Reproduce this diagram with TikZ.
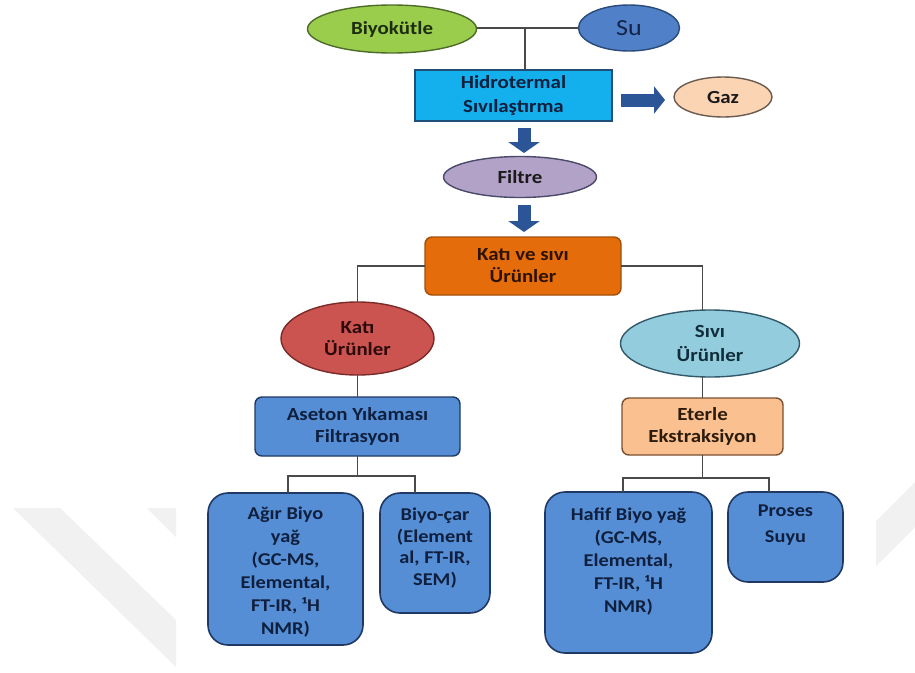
\documentclass[tikz,border=0pt]{standalone}
\usepackage{fontspec}
\setmainfont{Carlito}[FakeStretch=1.13]
\usetikzlibrary{shapes.geometric,arrows.meta,calc}
\definecolor{wm}{HTML}{F1F1F1}
\definecolor{lin}{HTML}{4A4A4A}
\definecolor{arrblue}{HTML}{2C5597}
\definecolor{biofill}{HTML}{9ACD4C}
\definecolor{biodraw}{HTML}{4E6B2A}
\definecolor{sufill}{HTML}{5080C8}
\definecolor{sudraw}{HTML}{2A4A7A}
\definecolor{hidfill}{HTML}{14B0EE}
\definecolor{hiddraw}{HTML}{1F4E79}
\definecolor{gazfill}{HTML}{FBD4B4}
\definecolor{gazdraw}{HTML}{6B5A4E}
\definecolor{filfill}{HTML}{B3A2C7}
\definecolor{fildraw}{HTML}{4A4A6A}
\definecolor{kvsfill}{HTML}{E46C0A}
\definecolor{kvsdraw}{HTML}{A34F0A}
\definecolor{katifill}{HTML}{CC5450}
\definecolor{katidraw}{HTML}{7A2A28}
\definecolor{bluefill}{HTML}{558ED5}
\definecolor{bluedraw}{HTML}{1F3864}
\definecolor{sivifill}{HTML}{93CDDD}
\definecolor{sividraw}{HTML}{31596A}
\definecolor{etfill}{HTML}{FAC090}
\definecolor{etdraw}{HTML}{7A5030}
\definecolor{darktxt}{HTML}{1A1A1A}
\definecolor{navytxt}{HTML}{0F1F3D}
\begin{document}
\begin{tikzpicture}[x=1pt,y=-1pt,
  every node/.style={inner sep=0pt, outer sep=0pt},
  txt/.style={font=\fontsize{18.5}{22}\selectfont\bfseries, align=center},
  btxt/.style={font=\fontsize{18}{23}\selectfont\bfseries, align=center, text=navytxt},
  ell/.style={ellipse, draw, line width=1.4pt, txt},
  sqbox/.style={rectangle, draw, line width=1.4pt, txt},
  rbox/.style={rectangle, rounded corners=7pt, draw, line width=1.4pt, txt},
  bbox/.style={rectangle, rounded corners=20pt, draw=bluedraw, fill=bluefill, line width=1.6pt},
  conn/.style={draw=lin, line width=1.3pt},
  blockarrow/.style={draw=arrblue, line width=13pt, -{Triangle[length=11pt,width=31pt]}},
  sidearrow/.style={draw=arrblue, line width=13pt, -{Triangle[length=11pt,width=27pt]}}
]
\fill[white] (0,0) rectangle (915,672);
\useasboundingbox (0,0) rectangle (915,672);
% faint watermark
\fill[wm] (13,508) -- (60,508) -- (176,620) -- (176,667) -- cycle;
\fill[wm] (147,508) -- (176,508) -- (176,537) -- cycle;
\fill[wm] (876,521) -- (915,482) -- (915,527) -- (876,566) -- cycle;

% nodes
\node[ell, fill=biofill, draw=biodraw, minimum width=169, minimum height=48, text={rgb,255:red,30;green,45;blue,15}] (bio) at (392,29) {Biyokütle};
\node[ell, fill=sufill, draw=sudraw, minimum width=101, minimum height=46, font=\fontsize{23}{26}\selectfont, text={rgb,255:red,20;green,35;blue,70}] (su) at (629,28) {Su};
\node[sqbox, fill=hidfill, draw=hiddraw, minimum width=197, minimum height=51, text=navytxt, font=\fontsize{18.5}{24}\selectfont\bfseries] (hid) at (513.5,95.5) {Hidrotermal\\Sıvılaştırma};
\node[ell, fill=gazfill, draw=gazdraw, minimum width=98, minimum height=40, text=darktxt] (gaz) at (723,97) {Gaz};
\node[ell, fill=filfill, draw=fildraw, minimum width=153, minimum height=41, text=darktxt] (filtre) at (520,177) {Filtre};
\node[rbox, fill=kvsfill, draw=kvsdraw, minimum width=196, minimum height=58, text={rgb,255:red,45;green,18;blue,0}] (kvs) at (523,266) {Katı ve sıvı\\Ürünler};
\node[ell, fill=katifill, draw=katidraw, minimum width=153, minimum height=73, text={rgb,255:red,45;green,10;blue,10}] (kati) at (357.5,338.5) {Katı\\Ürünler};
\node[rbox, fill=bluefill, draw=bluedraw, minimum width=205, minimum height=59, text=navytxt] (aseton) at (357.5,426.5) {Aseton Yıkaması\\Filtrasyon};
\node[ell, fill=sivifill, draw=sividraw, minimum width=179, minimum height=67, text={rgb,255:red,16;green,45;blue,58}, font=\fontsize{18.5}{24}\selectfont\bfseries] (sivi) at (710,343.5) {Sıvı\\Ürünler};
\node[rbox, fill=etfill, draw=etdraw, minimum width=161, minimum height=57, text={rgb,255:red,45;green,28;blue,12}] (eterle) at (702.5,426.5) {Eterle\\Ekstraksiyon};

% bottom boxes
\node[bbox, minimum width=155, minimum height=152] (agir) at (285.5,569) {};
\node[btxt, anchor=north] (agirt) at ([yshift=-14pt]agir.north) {Ağır Biyo\\yağ\\(GC-MS,\\Elemental,\\FT-IR, ¹H\\NMR)};
\node[bbox, minimum width=110, minimum height=120] (biyocar) at (435,553) {};
\node[btxt, anchor=north, font=\fontsize{18}{21.5}\selectfont\bfseries] (biyocart) at ([yshift=-15pt]biyocar.north) {Biyo-çar\\(Element\\al, FT-IR,\\SEM)};
\node[bbox, minimum width=167, minimum height=161] (hafif) at (628.5,572.5) {};
\node[btxt, anchor=north] (hafift) at ([yshift=-16pt]hafif.north) {Hafif Biyo yağ\\(GC-MS,\\Elemental,\\FT-IR, ¹H\\NMR)};
\node[bbox, minimum width=115, minimum height=90] (proses) at (785.5,537) {};
\node[btxt, anchor=north, font=\fontsize{18}{26}\selectfont\bfseries] (prosest) at ([yshift=-13pt]proses.north) {Proses\\Suyu};

% block arrows
\coordinate (a1s) at (524,128);
\coordinate (a1e) at (524,153);
\coordinate (a2s) at (524,205);
\coordinate (a2e) at (524,232);
\coordinate (a3s) at (621,100);
\coordinate (a3e) at (665,100);
\draw[blockarrow] (a1s) -- (a1e);
\draw[blockarrow] (a2s) -- (a2e);
\draw[sidearrow] (a3s) -- (a3e);

% connectors
\coordinate (j1) at (525,28);
\draw[conn] (bio.east |- j1) -- (su.west |- j1);
\draw[conn] (j1) -- (j1 |- hid.north);
\draw[conn] (kvs.west) -| (kati.north);
\draw[conn] (kvs.east) -| (sivi.north -| eterle.north);
\draw[conn] (kati.south) -- (aseton.north);
\draw[conn] (sivi.south -| eterle.north) -- (eterle.north);
\coordinate (b1) at (357.5,476);
\draw[conn] (aseton.south) -- (b1);
\draw[conn] ([xshift=2.5pt]agir.north) |- (b1) -| ([xshift=-20pt]biyocar.north);
\coordinate (b2) at (702.5,478);
\draw[conn] (eterle.south) -- (b2);
\draw[conn] ([xshift=-5.5pt]hafif.north) |- (b2) -| ([xshift=-16.5pt]proses.north);
\end{tikzpicture}
\end{document}
